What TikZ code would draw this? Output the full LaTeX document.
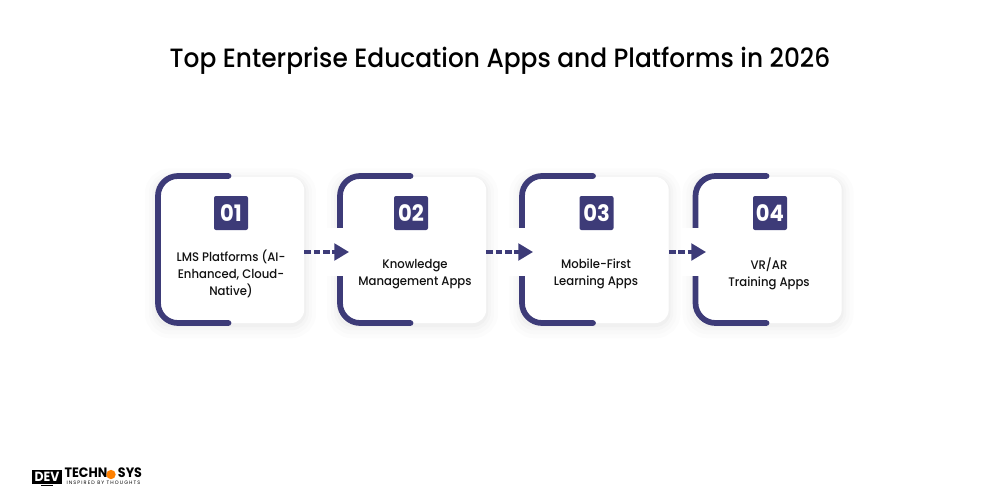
\documentclass[tikz,border=0pt]{standalone}
\usepackage{fontspec}
\setmainfont[FakeStretch=0.93]{Poppins}
\newfontfamily\medfont[FakeStretch=0.94]{Poppins Medium}
\newfontfamily\tagfont[LetterSpace=22]{Poppins}
\usetikzlibrary{arrows.meta}
\definecolor{navy}{HTML}{3D3B78}
\definecolor{ink}{HTML}{111111}
\begin{document}
\begin{tikzpicture}[x=0.75pt, y=-0.75pt]
  \tikzstyle{card}=[fill=white, minimum width=110.5pt, minimum height=109.5pt, inner sep=0pt, rounded corners=10pt,
    preaction={draw=black, draw opacity=0.012, line width=18pt, fill opacity=0, transform canvas={yshift=-2.5pt}},
    preaction={draw=black, draw opacity=0.012, line width=12pt, fill opacity=0, transform canvas={yshift=-2.5pt}},
    preaction={draw=black, draw opacity=0.016, line width=7pt, fill opacity=0, transform canvas={yshift=-2pt}},
    preaction={draw=black, draw opacity=0.02, line width=3pt, fill opacity=0, transform canvas={yshift=-1.5pt}}]
  \tikzstyle{badge}=[fill=navy, text=white, minimum size=25.5pt, inner sep=0pt, rounded corners=1.5pt, font=\fontsize{17}{17}\selectfont\bfseries]
  \tikzstyle{bracket}=[draw=navy, line width=4.3pt, line cap=round, rounded corners=15pt]
  \tikzstyle{patch}=[fill=white, minimum width=21pt, minimum height=36pt, inner sep=0pt]
  \tikzstyle{label}=[text=ink, align=center, font=\fontsize{9.3}{13}\selectfont\medfont]
  \tikzstyle{flow}=[draw=navy, line width=2.4pt, dash pattern=on 5pt off 2pt, -{Triangle[length=11pt, width=12.5pt, sep=0pt]}]
  \useasboundingbox (0, 0) rectangle (1000, 500);

  \node[text=black, font=\fontsize{19.85}{24}\selectfont\medfont] (title) at (500, 61) {Top Enterprise Education Apps and Platforms in 2026};

  \node[card] (c1) at (230.5, 250) {};
  \draw[bracket] (228.5, 176) -- (158, 176) -- (158, 323) -- (228.5, 323);
  \node[badge] (b1) at (231, 213) {01};
  \node[label] (l1) at (231, 274) {LMS Platforms (AI-\\Enhanced, Cloud-\\Native)};

  \node[card] (c2) at (412.5, 250) {};
  \draw[bracket] (410.5, 176) -- (340, 176) -- (340, 323) -- (410.5, 323);
  \node[patch] (p2) at (339, 252) {};
  \node[badge] (b2) at (411, 213) {02};
  \node[label] (l2) at (415, 274) {Knowledge\\Management Apps};

  \node[card] (c3) at (595, 250) {};
  \draw[bracket] (593, 176) -- (522, 176) -- (522, 323) -- (593, 323);
  \node[patch] (p3) at (521, 252) {};
  \node[badge] (b3) at (596.5, 213) {03};
  \node[label] (l3) at (596, 274) {Mobile-First\\Learning Apps};

  \node[card] (c4) at (768, 250) {};
  \draw[bracket] (766.5, 176) -- (695.5, 176) -- (695.5, 323) -- (766.5, 323);
  \node[patch] (p4) at (695, 252) {};
  \node[badge] (b4) at (770, 213) {04};
  \node[label] (l4) at (769, 274) {VR/AR\\Training Apps};

  \coordinate (t2) at (349, 252);
  \coordinate (t3) at (533, 252);
  \coordinate (t4) at (706, 252);
  \draw[flow] (c1.east |- t2) -- (t2);
  \draw[flow] (c2.east |- t3) -- (t3);
  \draw[flow] (c3.east |- t4) -- (t4);

  \node[fill=black, text=white, minimum width=23pt, minimum height=10.5pt, inner sep=0pt, font=\fontsize{10}{10}\selectfont\bfseries] (dev) at (47, 476.5) {DEV};
  \node[fill=black, minimum width=9pt, minimum height=1.2pt, inner sep=0pt] (stand) at (47, 485.5) {};
  \node[text=black, inner sep=0pt, font=\fontsize{10.2}{10.2}\selectfont\bfseries] (tech) at (86, 473) {TECHN};
  \node[circle, fill=orange, minimum size=7pt, inner sep=0pt] (gear) at (111, 474.5) {};
  \node[text=black, inner sep=0pt, font=\fontsize{10.2}{10.2}\selectfont\bfseries] (sys) at (130, 473) {SYS};
  \node[text=black, inner sep=0pt, font=\fontsize{3.7}{3.7}\selectfont\tagfont] (tag) at (103.5, 483) {INSPIRED BY THOUGHTS};
\end{tikzpicture}
\end{document}
